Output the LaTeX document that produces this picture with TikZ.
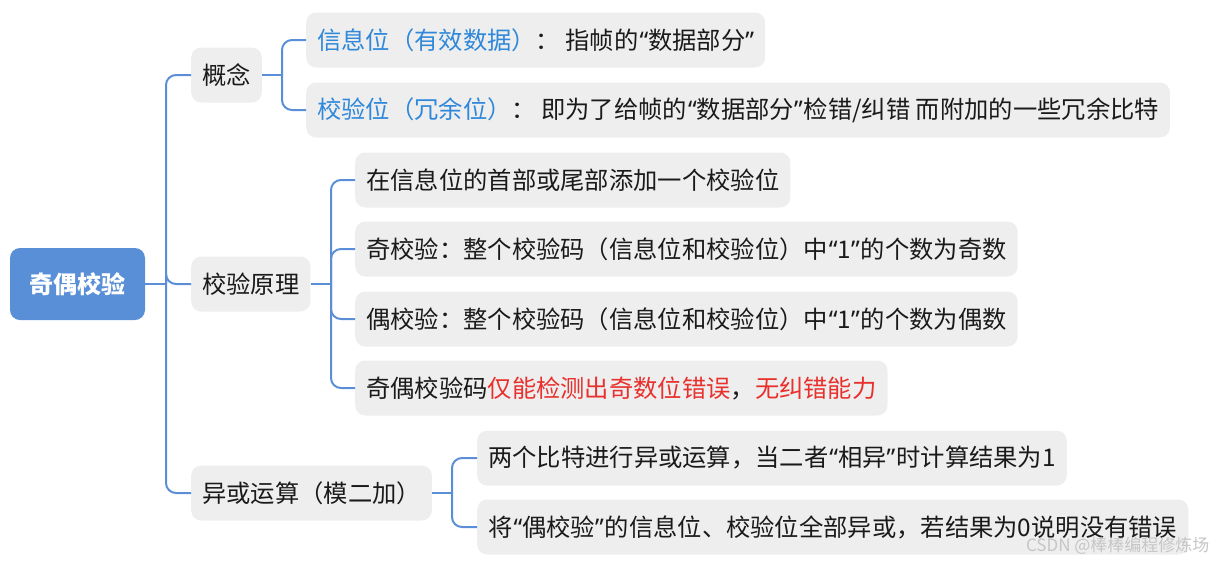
\documentclass[tikz,border=0pt]{standalone}
\usepackage{fontspec}
\setmainfont{Noto Sans CJK SC}
\newfontfamily\latinq{Noto Sans}
\definecolor{rootblue}{HTML}{588FD6}
\definecolor{lineblue}{HTML}{5A8FD8}
\definecolor{boxgray}{HTML}{EEEEEE}
\definecolor{keyblue}{HTML}{2F88DA}
\definecolor{errred}{HTML}{E8302C}
\definecolor{txt}{HTML}{1A1A1A}
\newcommand\qopen{{\latinq\hspace{1pt}“}}
\newcommand\qclose{{\latinq ”\hspace{1pt}}}
\begin{document}
\begin{tikzpicture}[x=1pt,y=-1pt,
  box/.style={fill=boxgray, rounded corners=10pt, minimum height=55pt, inner xsep=11pt, inner ysep=0pt, anchor=west, text=txt, font=\fontsize{24.3pt}{28pt}\selectfont},
  rootbox/.style={fill=rootblue, rounded corners=10pt, minimum width=135pt, minimum height=72pt, text=white, font=\fontsize{24pt}{28pt}\selectfont\bfseries},
  link/.style={draw=lineblue, line width=2pt, rounded corners=10pt},
]
\useasboundingbox (0,0) rectangle (1217,563);

\node[rootbox] (root) at (77.5,284) {奇偶校验};

\node[box] (gn) at (191,75) {概念};
\node[box] (yl) at (191,284) {校验原理};
\node[box] (yh) at (191,493) {异或运算（模二加）};

\node[box] (a1) at (306,40) {\textcolor{keyblue}{信息位（有效数据）}： 指帧的\qopen 数据部分\qclose};
\node[box] (a2) at (306,110) {\textcolor{keyblue}{校验位（冗余位）}： 即为了给帧的\qopen 数据部分\qclose 检错/纠错 而附加的一些冗余比特};

\node[box] (b1) at (355,180) {在信息位的首部或尾部添加一个校验位};
\node[box] (b2) at (355,249) {奇校验：整个校验码（信息位和校验位）中\qopen 1\qclose 的个数为奇数};
\node[box] (b3) at (355,319) {偶校验：整个校验码（信息位和校验位）中\qopen 1\qclose 的个数为偶数};
\node[box] (b4) at (355,388) {奇偶校验码\textcolor{errred}{仅能检测出奇数位错误}，\textcolor{errred}{无纠错能力}};

\node[box] (c1) at (477,458) {两个比特进行异或运算，当二者\qopen 相异\qclose 时计算结果为1};
\node[box] (c2) at (477,527) {将\qopen 偶校验\qclose 的信息位、校验位全部异或，若结果为0说明没有错误};

\coordinate (j0) at (166,284);
\coordinate (j1) at (282,75);
\coordinate (j2) at (331,284);
\coordinate (j3) at (452,493);

\draw[link] (root.east) -- (j0);
\draw[link] (j0) |- (gn.west);
\draw[link] (j0) |- (yl.west);
\draw[link] (j0) |- (yh.west);

\draw[link] (gn.east) -- (j1);
\draw[link] (j1) |- (a1.west);
\draw[link] (j1) |- (a2.west);

\draw[link] (yl.east) -- (j2);
\draw[link] (j2) |- (b1.west);
\draw[link] (j2) |- (b2.west);
\draw[link] (j2) |- (b3.west);
\draw[link] (j2) |- (b4.west);

\draw[link] (yh.east) -- (j3);
\draw[link] (j3) |- (c1.west);
\draw[link] (j3) |- (c2.west);

\node[anchor=east, text=gray!45, font=\fontsize{17pt}{20pt}\selectfont] (wm) at (1213,546) {CSDN @棒棒编程修炼场};
\end{tikzpicture}
\end{document}
